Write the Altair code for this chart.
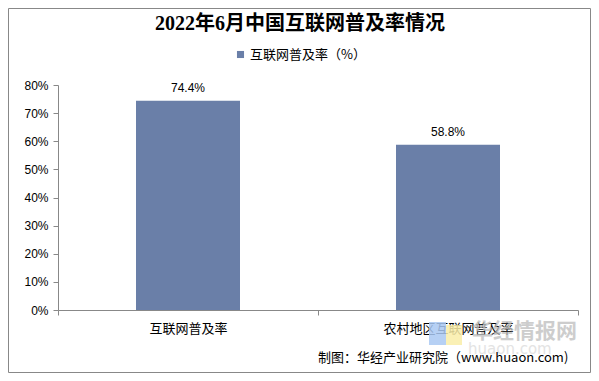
import altair as alt
import pandas as pd

categories = ["互联网普及率", "农村地区互联网普及率"]
values = [74.4, 58.8]
series_name = "互联网普及率（%）"
title_text = "2022年6月中国互联网普及率情况"
source_text = "制图：华经产业研究院（www.huaon.com)"
wm_main = "华经情报网"
wm_sub = "huaon.com"
y_ticks = [0, 0.1, 0.2, 0.3, 0.4, 0.5, 0.6, 0.7, 0.8]

df = pd.DataFrame({"cat": categories, "val": values, "series": [series_name] * 2})
one = pd.DataFrame({"a": [0]})

W, H = 520, 225
CJK = "Noto Sans CJK SC"

base = alt.Chart(df).transform_calculate(v="datum.val / 100")

x_enc = alt.X("cat:N", sort=categories, title=None,
              scale=alt.Scale(paddingInner=0, paddingOuter=0),
              axis=alt.Axis(labelAngle=0, labelFont=CJK, labelFontSize=13, labelColor="#000",
                            labelPadding=7, tickBand="extent", tickSize=5, tickColor="#888",
                            domainColor="#888"))
y_enc = alt.Y("v:Q", title=None,
              scale=alt.Scale(domain=[0, 0.8], nice=False),
              axis=alt.Axis(values=y_ticks, format=".0%", labelOverlap=False,
                            grid=False, labelFont="Liberation Sans", labelFontSize=12,
                            labelColor="#000", tickSize=5, tickColor="#888", domainColor="#888",
                            labelPadding=5))

bars = base.mark_bar(width=alt.RelativeBandSize(0.4), color="#6A7FA8").encode(
    x=x_enc, y=y_enc,
    color=alt.Color("series:N", scale=alt.Scale(range=["#6A7FA8"]), title=None,
                    legend=alt.Legend(orient="none", legendX=176, legendY=-37, symbolType="square",
                                      symbolSize=50, labelFont=CJK, labelFontSize=13,
                                      labelColor="#000", labelOffset=3))
)

labels = base.mark_text(baseline="bottom", dy=-6, font="Liberation Sans", fontSize=12, color="#000").encode(
    x=x_enc, y=y_enc, text=alt.Text("v:Q", format=".1%")
)

border = alt.Chart(one).mark_rect(fill=None, stroke="#888", strokeWidth=1).encode(
    x=alt.value(-49.5), x2=alt.value(532.5), y=alt.value(-76.5), y2=alt.value(287.5)
)

title = alt.Chart(one).mark_text(font="Liberation Serif, Noto Sans CJK SC", fontSize=20,
                                 fontWeight="bold", color="#000").encode(
    x=alt.value(242), y=alt.value(-61), text=alt.value(title_text)
)

logo_b = alt.Chart(one).mark_rect(color="#A9C8F2", opacity=0.85).encode(
    x=alt.value(371), x2=alt.value(388), y=alt.value(237), y2=alt.value(260))
logo_y = alt.Chart(one).mark_rect(color="#F9EDA8", opacity=0.85).encode(
    x=alt.value(388), x2=alt.value(404), y=alt.value(240), y2=alt.value(260))

wm1 = alt.Chart(one).mark_text(font=CJK, fontSize=21, fontWeight="bold", color="#BDBDBD",
                               opacity=0.75, align="left").encode(
    x=alt.value(414), y=alt.value(247), text=alt.value(wm_main))
wm2 = alt.Chart(one).mark_text(font="DejaVu Sans", fontSize=15, color="#DADADA", align="left",
                               opacity=0.75).encode(
    x=alt.value(410), y=alt.value(264), text=alt.value(wm_sub))

source = alt.Chart(one).mark_text(font=CJK, fontSize=13, color="#000", align="left").encode(
    x=alt.value(260), y=alt.value(273), text=alt.value(source_text))

chart = alt.layer(logo_b, logo_y, wm1, wm2, bars, labels, source, title, border).properties(
    width=W, height=H,
    autosize=alt.AutoSizeParams(type="none"),
    padding={"left": 50, "top": 77, "right": 13, "bottom": 63},
    background="white",
).configure_view(stroke=None)

chart.save("out.html", embed_options={"renderer": "svg", "actions": False})
